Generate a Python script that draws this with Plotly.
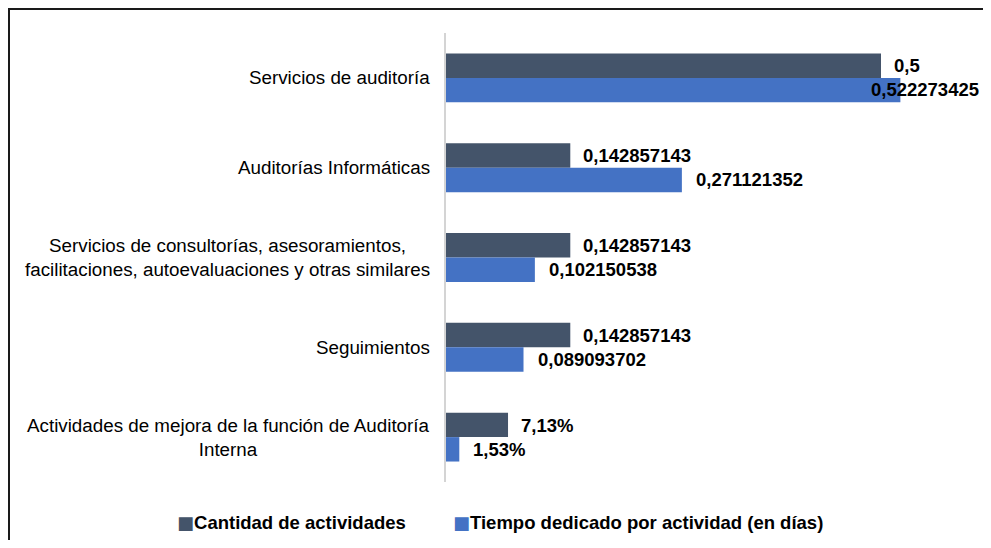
import plotly.graph_objects as go

categories = [
    "Servicios de auditoría",
    "Auditorías Informáticas",
    "Servicios de consultorías, asesoramientos,<br>facilitaciones, autoevaluaciones y otras similares",
    "Seguimientos",
    "Actividades de mejora de la función de Auditoría<br>Interna",
]
cantidad = [0.5, 0.142857143, 0.142857143, 0.142857143, 0.0713]
tiempo = [0.522273425, 0.271121352, 0.102150538, 0.089093702, 0.0153]
cantidad_labels = ["0,5", "0,142857143", "0,142857143", "0,142857143", "7,13%"]
tiempo_labels = ["0,522273425", "0,271121352", "0,102150538", "0,089093702", "1,53%"]
series_names = ["Cantidad de actividades", "Tiempo dedicado por actividad (en días)"]

C_DARK = "#44546A"
C_BLUE = "#4472C4"
FONT = "Liberation Sans, Arial, sans-serif"

# figure is placed by the page 8px from the top-left corner
W, H = 975, 532
L, T = 438, 25
PW, PH = 522, 449

fig = go.Figure()
fig.add_trace(go.Bar(y=categories, x=cantidad, orientation="h", name=series_names[0],
                     marker=dict(color=C_DARK, line=dict(width=0)), showlegend=False))
fig.add_trace(go.Bar(y=categories, x=tiempo, orientation="h", name=series_names[1],
                     marker=dict(color=C_BLUE, line=dict(width=0)), showlegend=False))

annotations = []
for c in categories:
    annotations.append(dict(xref="paper", x=0, yref="y", y=c, text=c, showarrow=False,
                            xanchor="right", yanchor="middle", xshift=-14, align="center",
                            font=dict(family=FONT, size=18.8, color="#000000")))
for c, v, lab in zip(categories, cantidad, cantidad_labels):
    annotations.append(dict(x=v, y=c, xref="x", yref="y", text="<b>%s</b>" % lab, showarrow=False,
                            xanchor="left", yanchor="middle", xshift=11, yshift=12,
                            font=dict(family=FONT, size=18.5, color="#000000")))
for c, v, lab in zip(categories, tiempo, tiempo_labels):
    if v > 0.5:
        annotations.append(dict(x=v, y=c, xref="x", yref="y", text="<b>%s</b>" % lab, showarrow=False,
                                xanchor="right", yanchor="middle", xshift=81, yshift=-12,
                                font=dict(family=FONT, size=18.5, color="#000000")))
    else:
        annotations.append(dict(x=v, y=c, xref="x", yref="y", text="<b>%s</b>" % lab, showarrow=False,
                                xanchor="left", yanchor="middle", xshift=12, yshift=-12,
                                font=dict(family=FONT, size=18.5, color="#000000")))
for name, col, px in [(series_names[0], C_DARK, 167), (series_names[1], C_BLUE, 443)]:
    annotations.append(dict(xref="paper", yref="paper", x=(px - L) / PW, y=-40 / PH, showarrow=False,
                            xanchor="left", yanchor="middle",
                            text="<span style='color:%s;font-family:DejaVu Sans;font-size:18px'>■</span><b>%s</b>" % (col, name),
                            font=dict(family=FONT, size=18.5, color="#000000")))

fig.update_layout(
    width=W, height=H,
    margin=dict(l=L, r=W - L - PW, t=T, b=H - T - PH),
    paper_bgcolor="white", plot_bgcolor="white",
    barmode="group", bargap=0.456, bargroupgap=0,
    xaxis=dict(range=[0, 0.6], showticklabels=False, showgrid=False, zeroline=False,
               showline=False, fixedrange=True),
    yaxis=dict(autorange="reversed", showticklabels=False, showgrid=False, zeroline=False,
               showline=True, linecolor="#d4d4d4", linewidth=2, ticks=""),
    annotations=annotations,
    shapes=[dict(type="rect", xref="paper", yref="paper",
                 x0=(1 - L) / PW, x1=(W + 40 - L) / PW,
                 y0=-(H - T - PH + 40) / PH, y1=(PH + T - 1) / PH,
                 line=dict(color="#1a1a1a", width=2), fillcolor="rgba(0,0,0,0)")],
    showlegend=False,
)
fig.write_html("out.html")
